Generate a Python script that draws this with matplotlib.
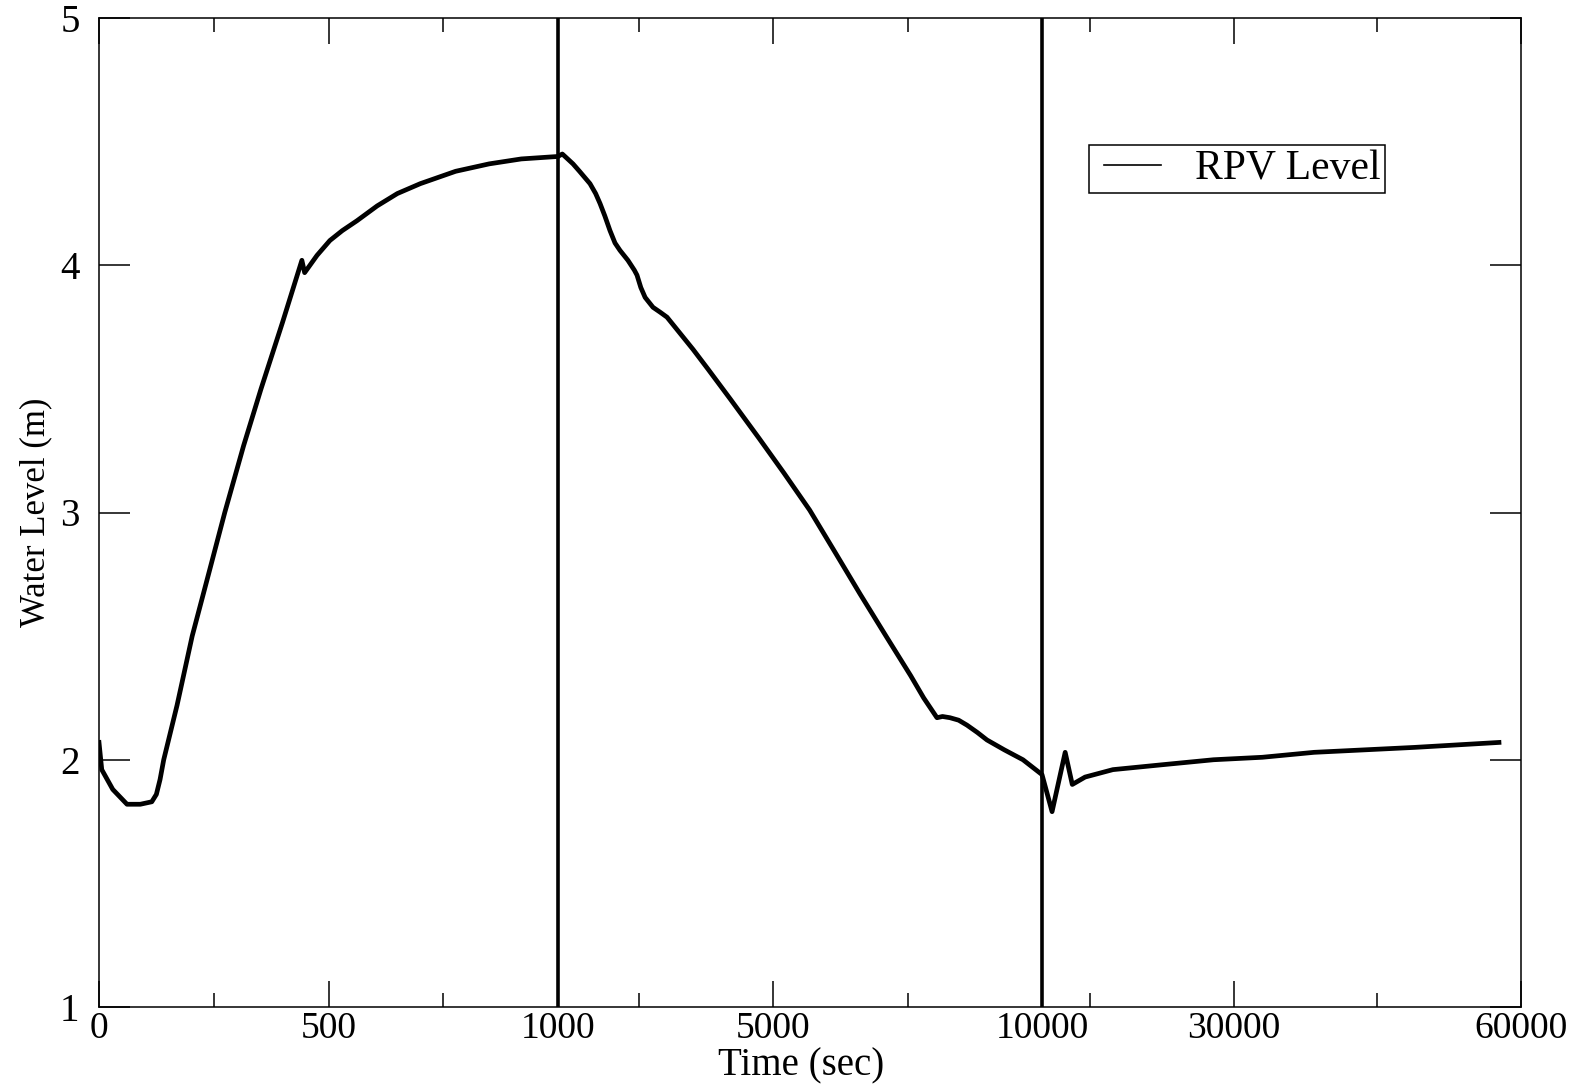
import numpy as np
import matplotlib
matplotlib.use('Agg')
import matplotlib.pyplot as plt
from matplotlib.lines import Line2D
from matplotlib.legend_handler import HandlerLine2D

plt.rcParams['font.family'] = ['Liberation Serif', 'DejaVu Serif']

# RPV level
time_s = [0, 6, 15, 30, 61, 90, 115, 125, 133, 141, 170, 203, 240, 274, 315, 353,
          400, 442, 448, 475, 503, 530, 562, 606, 650, 700, 777, 850, 920, 1000,
          1080, 1180, 1279, 1400, 1595, 1700, 1781, 1870, 1967, 2060, 2153, 2300,
          2420, 2469, 2540, 2620, 2766, 2900, 3027, 3250, 3510, 3789, 4200, 4739,
          5200, 5679, 6150, 6618, 7100, 7558, 7800, 8047, 8150, 8289, 8450, 8605,
          8800, 8977, 9300, 9646, 10000, 11050, 12420, 13160, 14500, 17400, 22600,
          27900, 33000, 38400, 48900, 57700]
level_m = [2.07, 1.96, 1.93, 1.88, 1.82, 1.82, 1.83, 1.86, 1.92, 2.00, 2.22, 2.50,
           2.76, 3.00, 3.27, 3.50, 3.77, 4.02, 3.97, 4.04, 4.10, 4.14, 4.18, 4.24,
           4.29, 4.33, 4.38, 4.41, 4.43, 4.44, 4.45, 4.43, 4.41, 4.38, 4.33, 4.29,
           4.25, 4.20, 4.14, 4.09, 4.06, 4.02, 3.98, 3.96, 3.91, 3.87, 3.83, 3.81,
           3.79, 3.73, 3.66, 3.58, 3.46, 3.30, 3.16, 3.01, 2.84, 2.67, 2.50, 2.34,
           2.25, 2.17, 2.175, 2.17, 2.16, 2.14, 2.11, 2.08, 2.04, 2.00, 1.94, 1.79,
           2.03, 1.90, 1.93, 1.96, 1.98, 2.00, 2.01, 2.03, 2.05, 2.07]

# broken time axis: three linear pieces
seg_t = [0, 1000, 10000, 60000]
seg_u = [0, 459, 943, 1422]
major_t = [0, 500, 1000, 5000, 10000, 30000, 60000]
minor_t = [250, 750, 2500, 7500, 15000, 45000]
marks_t = [1000, 10000]


def fwd(t):
    return np.interp(t, seg_t, seg_u)


def inv(u):
    return np.interp(u, seg_u, seg_t)


fig = plt.figure(figsize=(15.85, 10.86), dpi=100)
ax = fig.add_axes([99/1585, 1-1007/1086, 1422/1585, 989/1086])
ax.set_xscale('function', functions=(fwd, inv))

ax.plot(time_s, level_m, color='black', lw=3.4, solid_joinstyle='round')
for t in marks_t:
    ax.axvline(t, color='black', lw=2.6)

ax.set_xlim(0, 60000)
ax.set_ylim(1, 5)
ax.set_xticks(major_t)
ax.set_xticklabels([str(t) for t in major_t])
ax.set_xticks(minor_t, minor=True)
ax.set_yticks([1, 2, 3, 4, 5])
ax.tick_params(axis='x', which='major', direction='in', top=True, length=19,
               width=1.1, labelsize=27, pad=3)
ax.tick_params(axis='x', which='minor', direction='in', top=True, length=10,
               width=1.1)
ax.tick_params(axis='y', direction='in', right=True, length=22, width=1.1,
               labelsize=28, pad=14)
for s in ax.spines.values():
    s.set_linewidth(1.1)

ax.set_xlabel('Time (sec)', fontsize=28)
ax.xaxis.set_label_coords((801-99)/1422, -0.041)
ax.set_ylabel('Water Level (m)', fontsize=25)
ax.yaxis.set_label_coords(-0.033, 0.5)

proxy = Line2D([], [], color='black', lw=1.2)
leg = ax.legend([proxy], ['RPV Level'], loc='upper left',
                bbox_to_anchor=(0.696, 0.872), fontsize=30, fancybox=False,
                framealpha=1, edgecolor='black', borderaxespad=0,
                handlelength=1.62, handletextpad=0.8, borderpad=0.12,
                handler_map={proxy: HandlerLine2D(xpad=0.24)})
leg.get_frame().set_linewidth(1.1)

fig.savefig('out.png', dpi=100)
